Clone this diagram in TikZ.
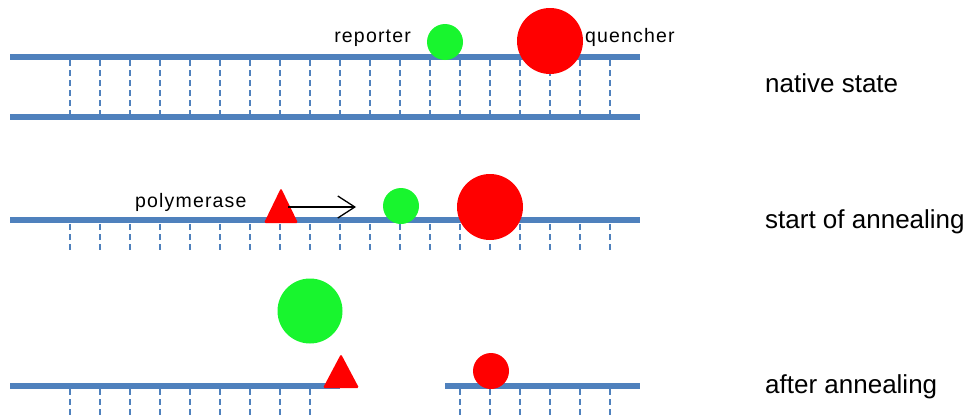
\documentclass[tikz,border=0pt]{standalone}
\usepackage{fontspec}
\setmainfont{Liberation Sans}
\newfontfamily\tagfont[LetterSpace=6]{Liberation Sans}
\usetikzlibrary{arrows.meta}
\definecolor{strandblue}{HTML}{4F81BD}
\definecolor{dyegreen}{RGB}{24,245,46}
\definecolor{dyered}{RGB}{255,0,0}
\tikzset{
  strand/.style={strandblue, line width=5.5pt},
  rung/.style={strandblue, line width=1.4pt, dash pattern=on 6pt off 4pt},
  reporterdot/.style={circle, fill=dyegreen, inner sep=0pt},
  quencherdot/.style={circle, fill=dyered, inner sep=0pt},
  enzyme/.style={fill=dyered, rounded corners=1.5pt},
  statelabel/.style={font=\fontsize{26}{30}\selectfont, inner sep=0pt, anchor=base west},
  taglabel/.style={font=\tagfont\fontsize{19.5}{23}\selectfont, inner sep=0pt},
  move/.style={black, line width=1.3pt, -{Straight Barb[length=17pt,width=22pt,line width=1.3pt]}}
}
\begin{document}
\begin{tikzpicture}[x=1pt,y=-1pt]
\useasboundingbox (0,0) rectangle (968,415);

% ---- native state: double strand with probe ----
\foreach \x in {70,100,...,610} \draw[rung] (\x,60) -- (\x,115);
\coordinate (s1a) at (10,57);  \coordinate (s1b) at (640,57);
\coordinate (s1c) at (10,117); \coordinate (s1d) at (640,117);
\draw[strand] (s1a) -- (s1b);
\draw[strand] (s1c) -- (s1d);
\node[reporterdot, minimum size=36pt] (rep1) at (445,42) {};
\node[quencherdot, minimum size=66pt] (que1) at (550,41) {};
\node[taglabel, anchor=base east] (lrep) at (411,42) {reporter};
\node[taglabel, anchor=base west] (lque) at (585,42) {quencher};
\node[statelabel] (lnative) at (765,92) {native state};

% ---- start of annealing: polymerase moving along ----
\foreach \x in {70,100,...,610} \draw[rung] (\x,224) -- (\x,250);
\coordinate (s2a) at (10,220); \coordinate (s2b) at (640,220);
\draw[strand] (s2a) -- (s2b);
\fill[enzyme] (264,223) -- (281,188) -- (298,223) -- cycle;
\coordinate (pol2) at (288,207);
\coordinate (pol2end) at (356,207);
\draw[move] (pol2) -- (pol2end);
\node[reporterdot, minimum size=36pt] (rep2) at (401,206) {};
\node[quencherdot, minimum size=66pt] (que2) at (490,207) {};
\node[taglabel, anchor=base west] (lpol) at (135,207) {polymerase};
\node[statelabel] (lstart) at (765,228) {start of annealing};

% ---- after annealing: probe cleaved, reporter released ----
\foreach \x in {70,100,...,310} \draw[rung] (\x,389) -- (\x,416);
\foreach \x in {460,490,...,610} \draw[rung] (\x,389) -- (\x,416);
\coordinate (s3a) at (10,386);  \coordinate (s3b) at (340,386);
\coordinate (s3c) at (445,386); \coordinate (s3d) at (640,386);
\draw[strand] (s3a) -- (s3b);
\draw[strand] (s3c) -- (s3d);
\node[reporterdot, minimum size=65pt] (rep3) at (310,311) {};
\fill[enzyme] (323,388) -- (341,354) -- (359,388) -- cycle;
\node[quencherdot, minimum size=36pt] (que3) at (491,371) {};
\node[statelabel] (lafter) at (765,393) {after annealing};
\end{tikzpicture}
\end{document}
